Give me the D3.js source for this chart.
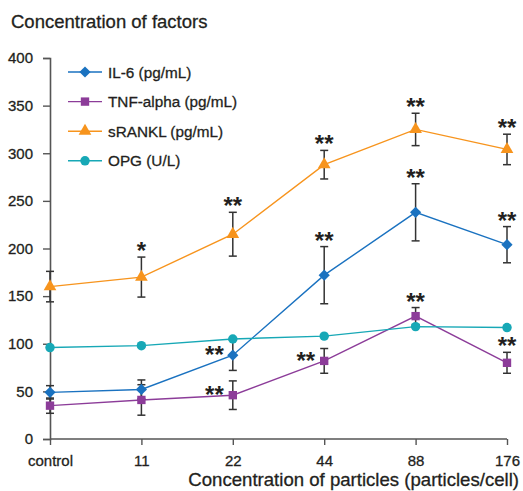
<!DOCTYPE html>
<html>
<head>
<meta charset="utf-8">
<script src="https://cdn.jsdelivr.net/npm/d3@7"></script>
<style>
  body { margin: 0; background: #fff; }
  text { font-family: "Liberation Sans", Arial, Helvetica, sans-serif; fill: #231f20; }
  .heavy { stroke: #231f20; stroke-width: 0.3; }
</style>
</head>
<body>
<div id="chart"></div>
<script>
// values
const categories = ["control", "11", "22", "44", "88", "176"];

const il6 = [49, 52, 88, 172, 238, 204];
const il6Err = [7, 10, 16, 30, 30, 19];
const il6Sig = ["", "", "**", "**", "**", "**"];

const tnf = [35, 41, 46, 82, 129, 80];
const tnfErr = [8, 16, 15, 13, 9, 11];
const tnfSig = ["", "", "**", "**", "**", "**"];

const rankl = [160, 170, 215, 288, 325, 304];
const ranklErr = [16, 21, 23, 15, 17, 16];
const ranklSig = ["", "*", "**", "**", "**", "**"];

const opg = [96, 98, 105, 108, 118, 117];

const yTicks = [0, 50, 100, 150, 200, 250, 300, 350, 400];

const series = [
  {name: "IL-6 (pg/mL)", values: il6, err: il6Err, sig: il6Sig, color: "#1a72c0", shape: d3.symbolDiamond2, size: 80,
   sigLeft: ["22"]},
  {name: "TNF-alpha (pg/mL)", values: tnf, err: tnfErr, sig: tnfSig, color: "#8c3c99", shape: d3.symbolSquare, size: 70,
   sigLeft: ["22", "44"]},
  {name: "sRANKL (pg/mL)", values: rankl, err: ranklErr, sig: ranklSig, color: "#f7941d", shape: d3.symbolTriangle, size: 70,
   sigLeft: []},
  {name: "OPG (U/L)", values: opg, err: null, sig: null, color: "#17a8b6", shape: d3.symbolCircle, size: 70,
   sigLeft: []}
];

const W = 523, H = 491;

const svg = d3.select("#chart").append("svg")
  .attr("width", W)
  .attr("height", H);

const x = d3.scalePoint().domain(categories).range([50, 507]);
const y = d3.scaleLinear().domain([0, 400]).range([439, 58]);

// title
svg.append("text")
  .attr("class", "heavy")
  .attr("x", 11)
  .attr("y", 28)
  .attr("font-size", 18.5)
  .text("Concentration of factors");

// axes
const yAxis = svg.append("g")
  .attr("transform", "translate(50,0)")
  .call(d3.axisLeft(y).tickValues(yTicks).tickSize(7).tickPadding(10));
yAxis.select(".domain").attr("stroke", "#555").attr("stroke-width", 1.6);
yAxis.selectAll(".tick line").attr("stroke", "#555").attr("stroke-width", 1.4);
yAxis.selectAll(".tick text")
  .attr("class", "heavy")
  .attr("font-size", 15)
  .attr("font-family", "Liberation Sans, Arial, sans-serif")
  .attr("fill", "#231f20");

const xAxis = svg.append("g")
  .attr("transform", "translate(0,439)")
  .call(d3.axisBottom(x).tickSizeOuter(0).tickSizeInner(6).tickPadding(10));
xAxis.select(".domain").attr("stroke", "#555").attr("stroke-width", 1.6)
  .attr("d", "M50,0H507");
xAxis.selectAll(".tick line").attr("stroke", "#555").attr("stroke-width", 1.4);
xAxis.selectAll(".tick text")
  .attr("class", "heavy")
  .attr("font-size", 15)
  .attr("font-family", "Liberation Sans, Arial, sans-serif")
  .attr("fill", "#231f20");

svg.append("text")
  .attr("class", "heavy")
  .attr("x", 519)
  .attr("y", 486)
  .attr("text-anchor", "end")
  .attr("font-size", 18.6)
  .text("Concentration of particles (particles/cell)");

const line = d3.line()
  .x((d, i) => x(categories[i]))
  .y(d => y(d));

// lines
series.forEach(s => {
  svg.append("path")
    .datum(s.values)
    .attr("fill", "none")
    .attr("stroke", s.color)
    .attr("stroke-width", 1.4)
    .attr("d", line);
});

// error bars
series.filter(s => s.err).forEach(s => {
  const g = svg.append("g").attr("stroke", "#333").attr("stroke-width", 1.5);
  s.values.forEach((v, i) => {
    const cx = x(categories[i]);
    const top = y(v + s.err[i]), bot = y(v - s.err[i]);
    g.append("line").attr("x1", cx).attr("x2", cx).attr("y1", top).attr("y2", bot);
    g.append("line").attr("x1", cx - 4).attr("x2", cx + 4).attr("y1", top).attr("y2", top);
    g.append("line").attr("x1", cx - 4).attr("x2", cx + 4).attr("y1", bot).attr("y2", bot);
  });
});

// markers
series.forEach(s => {
  svg.append("g").selectAll("path")
    .data(s.values)
    .enter()
    .append("path")
      .attr("transform", (d, i) => `translate(${x(categories[i])},${y(d)})`)
      .attr("d", d3.symbol().type(s.shape).size(s.size))
      .attr("fill", s.color);
});

// significance marks
series.filter(s => s.sig).forEach(s => {
  s.sig.forEach((m, i) => {
    if (!m) return;
    const cx = x(categories[i]);
    const left = s.sigLeft.includes(categories[i]);
    const t = svg.append("text")
      .attr("font-size", 24)
      .attr("font-weight", "bold")
      .text(m);
    if (left) {
      t.attr("x", cx - 9).attr("y", y(s.values[i]) + 8).attr("text-anchor", "end");
    } else {
      t.attr("x", cx).attr("y", y(s.values[i] + s.err[i]) + 2).attr("text-anchor", "middle");
    }
  });
});

// legend
const legend = svg.append("g");
series.forEach((s, i) => {
  const ly = 72 + i * 29.6;
  legend.append("line")
    .attr("x1", 68).attr("x2", 102)
    .attr("y1", ly).attr("y2", ly)
    .attr("stroke", s.color)
    .attr("stroke-width", 1.4);
  legend.append("path")
    .attr("transform", `translate(85,${ly})`)
    .attr("d", d3.symbol().type(s.shape).size(s.size))
    .attr("fill", s.color);
  legend.append("text")
    .attr("class", "heavy")
    .attr("x", 108)
    .attr("y", ly + 5.5)
    .attr("font-size", 15.3)
    .text(s.name);
});
</script>
</body>
</html>
